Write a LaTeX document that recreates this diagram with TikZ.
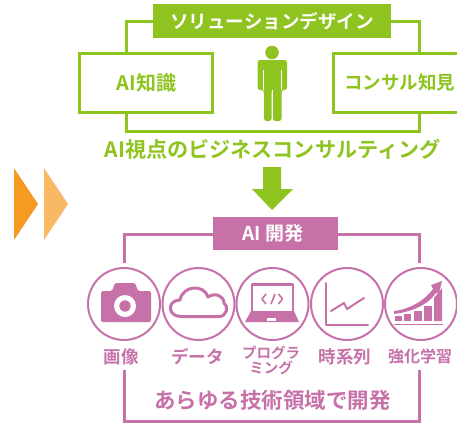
\documentclass[tikz,border=0pt]{standalone}
\usepackage{fontspec}
\newfontfamily\jpb{Noto Sans CJK JP Bold}
\newfontfamily\jpm{Noto Sans CJK JP Medium}
\definecolor{grn}{HTML}{8FC31F}
\definecolor{pnk}{HTML}{C771A9}
\definecolor{org}{HTML}{F59A23}
\definecolor{lorg}{HTML}{F8B864}
\tikzset{
 gbox/.style={draw=grn,line width=3pt,fill=white,minimum height=59pt,inner sep=0pt,text=grn,font=\jpb\fontsize{18.5}{18.5}\selectfont},
 gbanner/.style={fill=grn,inner sep=0pt,text=white,font=\jpb\fontsize{18.5}{18.5}\selectfont},
 pbanner/.style={fill=pnk,inner sep=0pt,text=white,font=\jpb\fontsize{19}{19}\selectfont},
 pcirc/.style={circle,draw=pnk,line width=2pt,fill=white,minimum size=72pt,inner sep=0pt},
 plabel/.style={text=pnk,inner sep=0pt,font=\jpb\fontsize{17.5}{17.5}\selectfont},
 gframe/.style={draw=grn,line width=3pt},
 pframe/.style={draw=pnk,line width=3pt},
 pline/.style={draw=pnk,line width=2pt,line cap=round,line join=round},
}
\begin{document}
\begin{tikzpicture}[x=1pt,y=-1pt]
\useasboundingbox (0,0) rectangle (457,423);
\clip (0,0) rectangle (457,423);
% green frame
\draw[gframe] (126,53) -- (126,21) -- (391,21) -- (419,21) -- (419,53);
\draw[gframe] (126,112) -- (126,131) -- (419,131) -- (419,112);
\node[gbanner,minimum width=238pt,minimum height=34pt] (gb) at (272,21) {ソリューションデザイン};
\node[gbox,minimum width=133pt,font=\jpb\fontsize{20}{20}\selectfont] (ai) at (145.5,83) {\hspace*{2pt}AI知識};
\node[gbox,minimum width=127pt,anchor=west] (con) at (332,83) {\hspace*{5pt}コンサル知見};
% person
\fill[grn] (272,52.5) circle (6.8);
\fill[grn,rounded corners=2.5pt] (257.5,90) -- (257.5,60) -- (287,60) -- (287,90) -- (281.5,90) -- (281.5,121) -- (273,121) -- (273,90) -- (271.5,90) -- (271.5,121) -- (264,121) -- (264,90) -- cycle;
\draw[white,line width=.6pt] (263,70) -- (263,90) (281.5,70) -- (281.5,90) (272.3,90) -- (272.3,120);
\node[text=grn,inner sep=0pt,font=\jpb\fontsize{21.1}{21.1}\selectfont] (title) at (272.5,149) {AI視点のビジネスコンサルティング};
% big arrow
\fill[grn] (263,167) -- (281,167) -- (281,189) -- (293,189) -- (272,210) -- (252,189) -- (263,189) -- cycle;
% chevrons
\fill[org] (14,168) -- (38,204) -- (14,240) -- cycle;
\fill[lorg] (44,168) -- (68,204) -- (44,240) -- cycle;
% pink frame
\draw[pframe] (124,263) -- (124,234) -- (419,234) -- (419,263);
\draw[pframe] (124,370) -- (124,421) -- (419,421) -- (419,370);
\node[pbanner,minimum width=125pt,minimum height=33pt] (pb) at (275.5,233.5) {AI 開発\hspace*{5pt}};
% circles
\node[pcirc] (c1) at (124,304) {};
\node[pcirc] (c2) at (198.5,304) {};
\node[pcirc] (c3) at (272.5,304) {};
\node[pcirc] (c4) at (347,304) {};
\node[pcirc] (c5) at (421,304) {};
% camera
\fill[pnk,rounded corners=1.5pt] (101,291) -- (112,291) -- (115,283) -- (135,283) -- (138,291) -- (151,291) -- (151,322) -- (101,322) -- cycle;
\fill[white] (125,306) circle (11);
\fill[pnk] (125,306) circle (5.7);
% cloud
\draw[pline,line width=3pt,fill=white] (181,316.5) .. controls (167,316.5) and (167,300) .. (180,300) .. controls (183,285) and (204,284) .. (208,297) .. controls (215,292) and (224,296) .. (224,303) .. controls (229,306) and (227,316.5) .. (219,316.5) -- cycle;
% laptop
\draw[pline,line width=2.5pt,line cap=butt] (252,314) -- (252,284.5) -- (293,284.5) -- (293,314);
\fill[pnk] (245,322) -- (251,311) -- (294,311) -- (299,322) -- cycle;
\fill[white] (267,318) rectangle (276,321);
\draw[pline,line width=1.6pt,line cap=butt] (266,294) -- (262,299) -- (266,304) (275,294) -- (271,304) (278.5,294) -- (282.5,299) -- (278.5,304);
% chart
\draw[pline] (325.5,283) -- (325.5,325) -- (368,325);
\draw[pline] (331,311) -- (344,303) -- (347,309) -- (364,298);
% growth
\fill[pnk] (395,316) rectangle (402,321);
\fill[pnk] (404,314) rectangle (411,321);
\fill[pnk] (414,311) rectangle (422,321);
\fill[pnk] (424,306) rectangle (432,321);
\fill[pnk] (434,298) -- (442,288) -- (442,321) -- (434,321) -- cycle;
\fill[pnk] (394,311) .. controls (410,309) and (424,301) .. (433,289) -- (431,285) -- (442,281) -- (439,293) -- (436,293) .. controls (428,305) and (411,312) .. (394,314) -- cycle;
\draw[pnk,line width=.8pt] (394,324) -- (443,324);
% labels
\node[plabel] (l1) at (121,356.5) {画像};
\node[plabel] (l2) at (197.5,356.5) {データ};
\node[plabel,align=center,font=\jpb\fontsize{14.5}{15}\selectfont] (l3) at (271,360) {プログラ\\ミング};
\node[plabel] (l4) at (345,356.5) {時系列};
\node[plabel,font=\jpb\fontsize{16}{16}\selectfont] (l5) at (420,356.5) {強化学習};
\node[text=pnk,inner sep=0pt,font=\jpb\fontsize{21.5}{21.5}\selectfont] (bot) at (272.5,400) {あらゆる技術領域で開発};
\end{tikzpicture}
\end{document}
